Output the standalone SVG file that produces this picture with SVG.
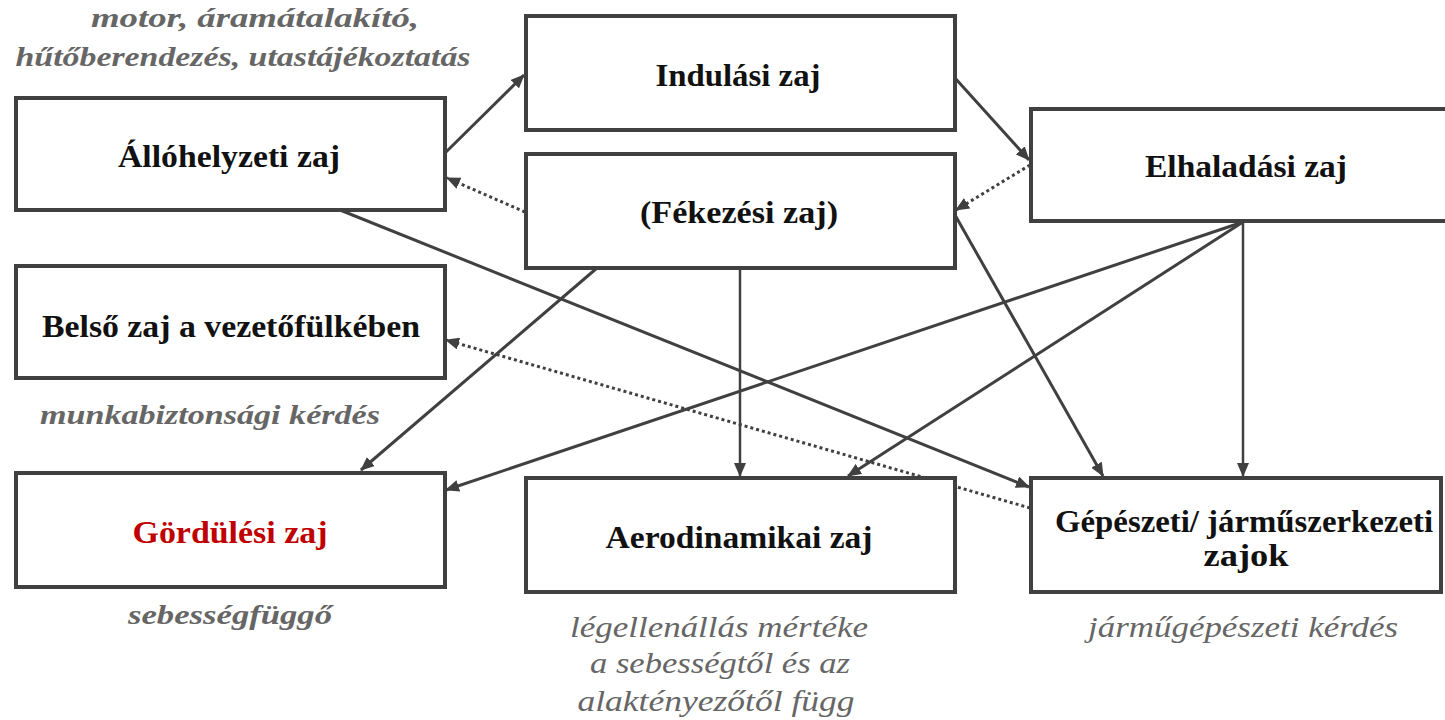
<svg xmlns="http://www.w3.org/2000/svg" width="1445" height="720" viewBox="0 0 1445 720" font-family="'Liberation Serif', serif">
<style>
.box{fill:#fff;stroke:#404040;stroke-width:4}
.lbl{font-weight:bold;font-size:31px;fill:#111;text-anchor:middle}
.red{fill:#c00000}
.note{font-weight:bold;font-style:italic;font-size:27px;fill:#666;text-anchor:middle}
.note2{font-style:italic;font-size:29px;fill:#666;text-anchor:middle}
.c{stroke:#404040;stroke-width:3;fill:none;marker-end:url(#ah)}
.thin{stroke-width:2.5}
.dot{stroke-dasharray:3 3}
</style>
<defs>
<marker id="ah" markerUnits="userSpaceOnUse" markerWidth="14" markerHeight="12" refX="13" refY="6" orient="auto">
<path d="M0,0 L14,6 L0,12 Z" fill="#404040"/>
</marker>
</defs>
<g id="connectors">
<line class="c" x1="445" y1="153" x2="524" y2="75"/>
<line class="c" x1="955" y1="78" x2="1029" y2="160"/>
<line class="c dot" x1="1030" y1="165" x2="956" y2="210"/>
<line class="c dot" x1="525" y1="212" x2="447" y2="178"/>
<line class="c" x1="340" y1="210" x2="1029" y2="487"/>
<line class="c" x1="597" y1="268" x2="361" y2="470"/>
<line class="c thin" x1="740" y1="268" x2="740" y2="476"/>
<line class="c" x1="955" y1="215" x2="1103" y2="476"/>
<line class="c" x1="1243" y1="222" x2="446" y2="490"/>
<line class="c" x1="1243" y1="222" x2="848" y2="476"/>
<line class="c thin" x1="1243" y1="222" x2="1243" y2="476"/>
<line class="c dot" x1="1030" y1="508" x2="446" y2="340"/>
</g>
<g id="allohelyzeti">
<rect class="box" x="16" y="98" width="429" height="112"/>
<text class="lbl" x="229" y="167" font-family="Liberation Serif" textLength="222" lengthAdjust="spacingAndGlyphs">Állóhelyzeti zaj</text>
</g>
<g id="note-allo">
<text class="note" x="255" y="27" textLength="328" lengthAdjust="spacingAndGlyphs">motor, áramátalakító,</text>
<text class="note" x="243" y="66" textLength="455" lengthAdjust="spacingAndGlyphs">hűtőberendezés, utastájékoztatás</text>
</g>
<g id="indulasi">
<rect class="box" x="526" y="16" width="429" height="114"/>
<text class="lbl" x="738" y="86" textLength="165" lengthAdjust="spacingAndGlyphs">Indulási zaj</text>
</g>
<g id="fekezesi">
<rect class="box" x="526" y="154" width="429" height="114"/>
<text class="lbl" x="739" y="223" textLength="198" lengthAdjust="spacingAndGlyphs">(Fékezési zaj)</text>
</g>
<g id="elhaladasi">
<rect class="box" x="1031" y="109" width="418" height="112"/>
<text class="lbl" x="1246" y="177" textLength="202" lengthAdjust="spacingAndGlyphs">Elhaladási zaj</text>
</g>
<g id="belso">
<rect class="box" x="16" y="266" width="429" height="112"/>
<text class="lbl" x="231" y="337" textLength="378" lengthAdjust="spacingAndGlyphs">Belső zaj a vezetőfülkében</text>
<text class="note" x="210" y="424" textLength="340" lengthAdjust="spacingAndGlyphs">munkabiztonsági kérdés</text>
</g>
<g id="gordulesi">
<rect class="box" x="16" y="473" width="429" height="114"/>
<text class="lbl red" x="230" y="543" textLength="195" lengthAdjust="spacingAndGlyphs">Gördülési zaj</text>
<text class="note" x="230" y="624" textLength="204" lengthAdjust="spacingAndGlyphs">sebességfüggő</text>
</g>
<g id="aerodinamikai">
<rect class="box" x="526" y="478" width="429" height="114"/>
<text class="lbl" x="739" y="548" textLength="267" lengthAdjust="spacingAndGlyphs">Aerodinamikai zaj</text>
<text class="note2" x="719" y="637" textLength="298" lengthAdjust="spacingAndGlyphs">légellenállás mértéke</text>
<text class="note2" x="720" y="673" textLength="260" lengthAdjust="spacingAndGlyphs">a sebességtől és az</text>
<text class="note2" x="716" y="711" textLength="277" lengthAdjust="spacingAndGlyphs">alaktényezőtől függ</text>
</g>
<g id="gepeszeti">
<rect class="box" x="1031" y="478" width="410" height="114"/>
<text class="lbl" x="1244" y="532" textLength="378" lengthAdjust="spacingAndGlyphs">Gépészeti/ járműszerkezeti</text>
<text class="lbl" x="1246" y="566" textLength="85" lengthAdjust="spacingAndGlyphs">zajok</text>
<text class="note2" x="1243" y="637" textLength="310" lengthAdjust="spacingAndGlyphs">járműgépészeti kérdés</text>
</g>
</svg>
